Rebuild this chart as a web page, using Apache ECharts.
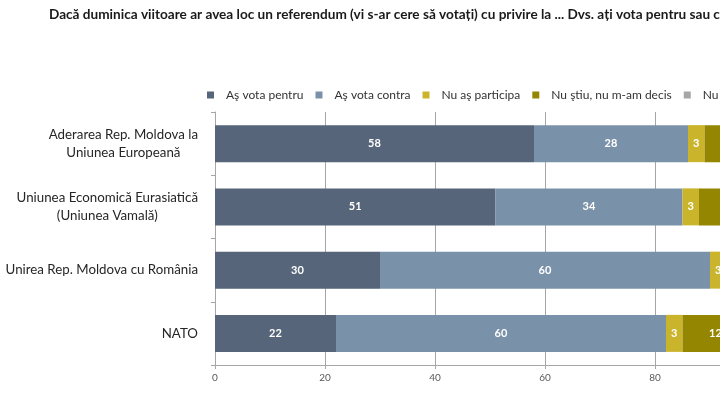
<!DOCTYPE html>
<html><head><meta charset="utf-8">
<script src="https://cdn.jsdelivr.net/npm/echarts@6/dist/echarts.min.js"></script>
<style>html,body{margin:0;padding:0;background:#fff}#c{width:720px;height:404px}</style>
</head><body><div id="c"></div>
<script>
const titleText = 'Dacă duminica viitoare ar avea loc un referendum (vi s-ar cere să votați) cu privire la ... Dvs. ați vota pentru sau contra?';
const categories = ['Aderarea Rep. Moldova la\nUniunea Europeană', 'Uniunea Economică Eurasiatică\n(Uniunea Vamală)', 'Unirea Rep. Moldova cu România', 'NATO'];
const seriesNames = ['Aş vota pentru', 'Aş vota contra', 'Nu aş participa', 'Nu ştiu, nu m-am decis', 'Nu răspund'];
const votePentru = [58, 51, 30, 22];
const voteContra = [28, 34, 60, 60];
const nuParticipa = [3, 3, 3, 3];
const nuStiu = [8, 9, 5, 12];
const nuRaspund = [3, 3, 2, 3];
const xTicks = [0, 20, 40, 60, 80, 100];
const colors = ['#566579', '#7a92a9', '#c9b42b', '#948600', '#a6a6a6'];
const seriesData = [votePentru, voteContra, nuParticipa, nuStiu, nuRaspund];
const FONT = 'Lato';

const chart = echarts.init(document.getElementById('c'));
chart.setOption({
  animation: false,
  title: {
    text: titleText, left: 49, top: 8, padding: 0,
    textStyle: { fontFamily: FONT, fontSize: 13.6, fontWeight: 'bold', color: '#1a1a1a' }
  },
  legend: {
    left: 207, top: 89, width: 1400, padding: 0,
    itemWidth: 7, itemHeight: 7, itemGap: 12,
    icon: 'rect',
    textStyle: { fontFamily: FONT, fontSize: 12, color: '#333', padding: [0, 0, 0, 7] },
    data: seriesNames
  },
  grid: { left: 215, top: 112, width: 550, height: 253, outerBoundsMode: 'none', containLabel: false },
  xAxis: {
    type: 'value', min: xTicks[0], max: xTicks[xTicks.length - 1], interval: 20,
    axisLine: { show: true, lineStyle: { color: '#a6a6a6' } },
    axisTick: { show: true, length: 4, lineStyle: { color: '#a6a6a6' } },
    axisLabel: { fontFamily: FONT, fontSize: 10, color: '#595959', margin: 8 },
    splitLine: { show: true, lineStyle: { color: '#a6a6a6', width: 1 } }
  },
  yAxis: {
    type: 'category', data: categories, inverse: true,
    axisLine: { show: true, lineStyle: { color: '#a6a6a6' } },
    axisTick: { show: true, length: 4, lineStyle: { color: '#a6a6a6' } },
    axisLabel: {
      margin: 17, color: '#262626', fontFamily: FONT, fontSize: 13.3, lineHeight: 18,
      formatter: v => v.split('\n').map(l => '{c|' + l + '}').join('\n'),
      rich: { c: { align: 'center', fontFamily: FONT, fontSize: 13.3, lineHeight: 18, color: '#262626' } }
    }
  },
  series: seriesNames.map((n, i) => ({
    name: n, type: 'bar', stack: 'total', data: seriesData[i], barWidth: 37,
    itemStyle: { color: colors[i] },
    label: { show: true, position: 'inside', color: '#fff', fontFamily: FONT, fontSize: 11, fontWeight: 'bold' }
  }))
});
</script></body></html>
